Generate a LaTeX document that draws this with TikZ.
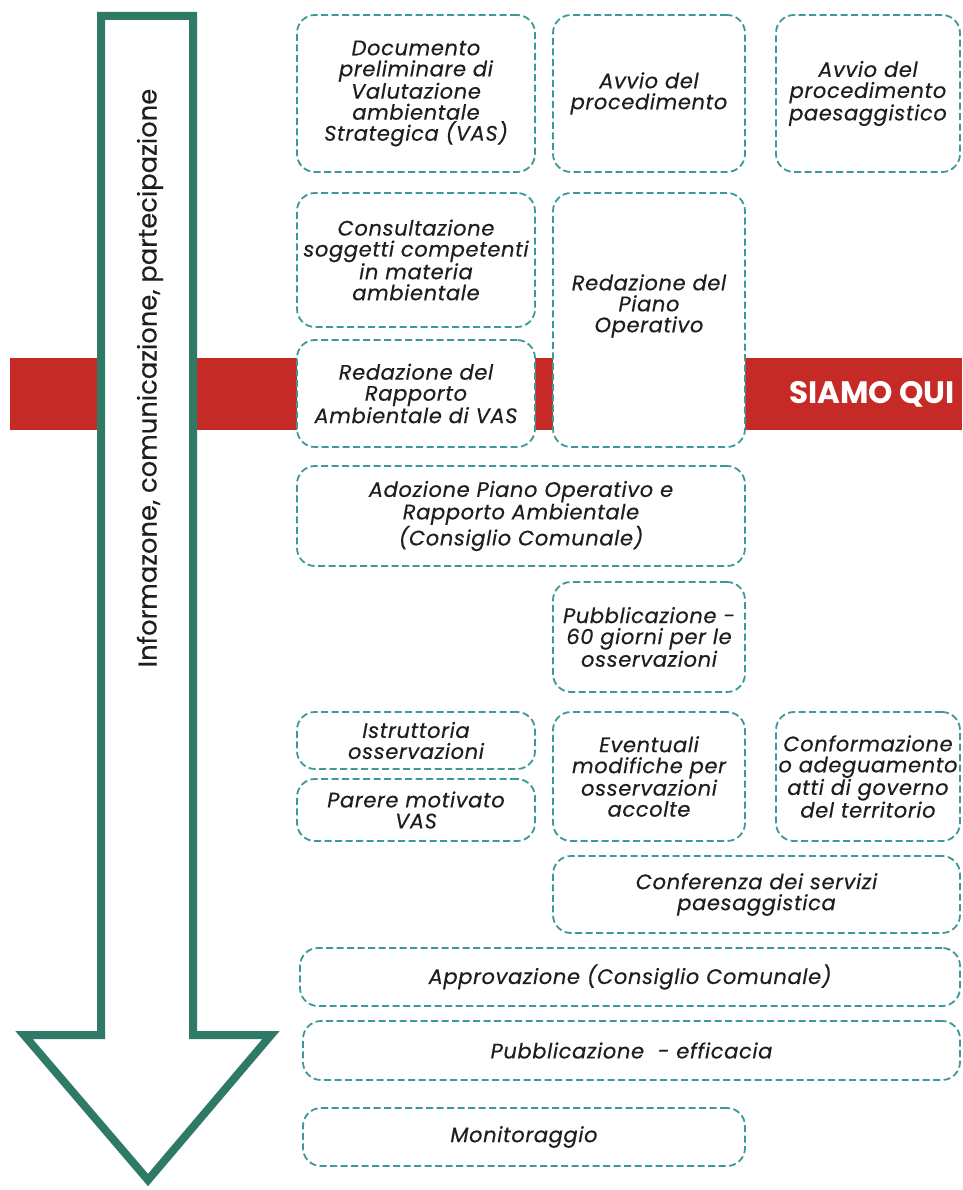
\documentclass[tikz,border=0pt]{standalone}
\usepackage{fontspec}
\setmainfont{Poppins}
\newfontfamily\boxfont{Poppins}[LetterSpace=3, FakeBold=0.35]
\newfontfamily\arrfont{Poppins}[FakeBold=0.2]
\definecolor{grn}{RGB}{46,122,102}
\definecolor{redb}{RGB}{198,42,38}
\definecolor{dashc}{RGB}{62,152,152}
\definecolor{txt}{RGB}{30,30,30}
\begin{document}
\begin{tikzpicture}[x=1pt,y=-1pt,
  box/.style={draw=dashc, line width=1.8pt, dash pattern=on 7pt off 3.5pt, rounded corners=18pt,
    fill=white, inner sep=0pt, align=center, text=txt,
    font=\boxfont\fontsize{21}{21}\selectfont\itshape},
  lbl/.style={align=center, text=txt, font=\boxfont\fontsize{21}{21}\selectfont\itshape, inner sep=0pt}]
\useasboundingbox (0,0) rectangle (962,1190);
\fill[white] (0,0) rectangle (962,1190);
% red band
\fill[redb] (10,358) rectangle (962,430);
% big arrow
\draw[grn, line width=8pt, fill=white, line join=miter]
  (101,16) -- (193,16) -- (193,1035) -- (271,1035) -- (148,1180) -- (24,1035) -- (101,1035) -- cycle;
\node[rotate=90, text=txt, font=\arrfont\fontsize{25.8}{30}\selectfont, inner sep=0pt] (arrtxt) at (150,378)
  {Informazone, comunicazione, partecipazione};
\node[text=white, font=\fontsize{31}{36}\selectfont\bfseries, inner sep=0pt] (siamo) at (872,394) {SIAMO QUI};
% boxes
\node[box, minimum width=238pt, minimum height=157pt] (A) at (416,93.5)
  {Documento\\preliminare di\\Valutazione\\ambientale\\Strategica (VAS)};
\node[box, minimum width=192pt, minimum height=157pt] (B) at (649,93.5)
  {Avvio del\\procedimento};
\node[box, minimum width=184pt, minimum height=157pt] (C) at (868,93.5)
  {Avvio del\\procedimento\\paesaggistico};
\node[box, minimum width=238pt, minimum height=134pt] (D) at (416,260)
  {Consultazione\\soggetti competenti\\in materia\\ambientale};
\node[box, minimum width=192pt, minimum height=254pt] (E) at (649,320) {};
\node[lbl] (Et) at (649,306) {Redazione del\\Piano\\Operativo};
\node[box, minimum width=238pt, minimum height=107pt] (F) at (416,393.5)
  {Redazione del\\Rapporto\\Ambientale di VAS};
\node[box, minimum width=448pt, minimum height=100pt] (G) at (521,516)
  {Adozione Piano Operativo e\\Rapporto Ambientale\\(Consiglio Comunale)};
\node[box, minimum width=192pt, minimum height=110pt] (H) at (649,637)
  {Pubblicazione -\\60 giorni per le\\osservazioni};
\node[box, minimum width=238pt, minimum height=57pt] (I) at (416,740.5)
  {Istruttoria\\osservazioni};
\node[box, minimum width=238pt, minimum height=62pt] (J) at (416,810)
  {Parere motivato\\VAS};
\node[box, minimum width=192pt, minimum height=129pt] (K) at (649,776.5)
  {Eventuali\\modifiche per\\osservazioni\\accolte};
\node[box, minimum width=184pt, minimum height=129pt] (L) at (868,776.5)
  {Conformazione\\o adeguamento\\atti di governo\\del territorio};
\node[box, minimum width=407pt, minimum height=77pt] (M) at (756.5,894.5)
  {Conferenza dei servizi\\paesaggistica};
\node[box, minimum width=660pt, minimum height=58pt] (N) at (630,977)
  {Approvazione (Consiglio Comunale)};
\node[box, minimum width=657pt, minimum height=59pt] (O) at (631.5,1050.5)
  {Pubblicazione \ - efficacia};
\node[box, minimum width=442pt, minimum height=58pt] (P) at (524,1137)
  {Monitoraggio};
\end{tikzpicture}
\end{document}
